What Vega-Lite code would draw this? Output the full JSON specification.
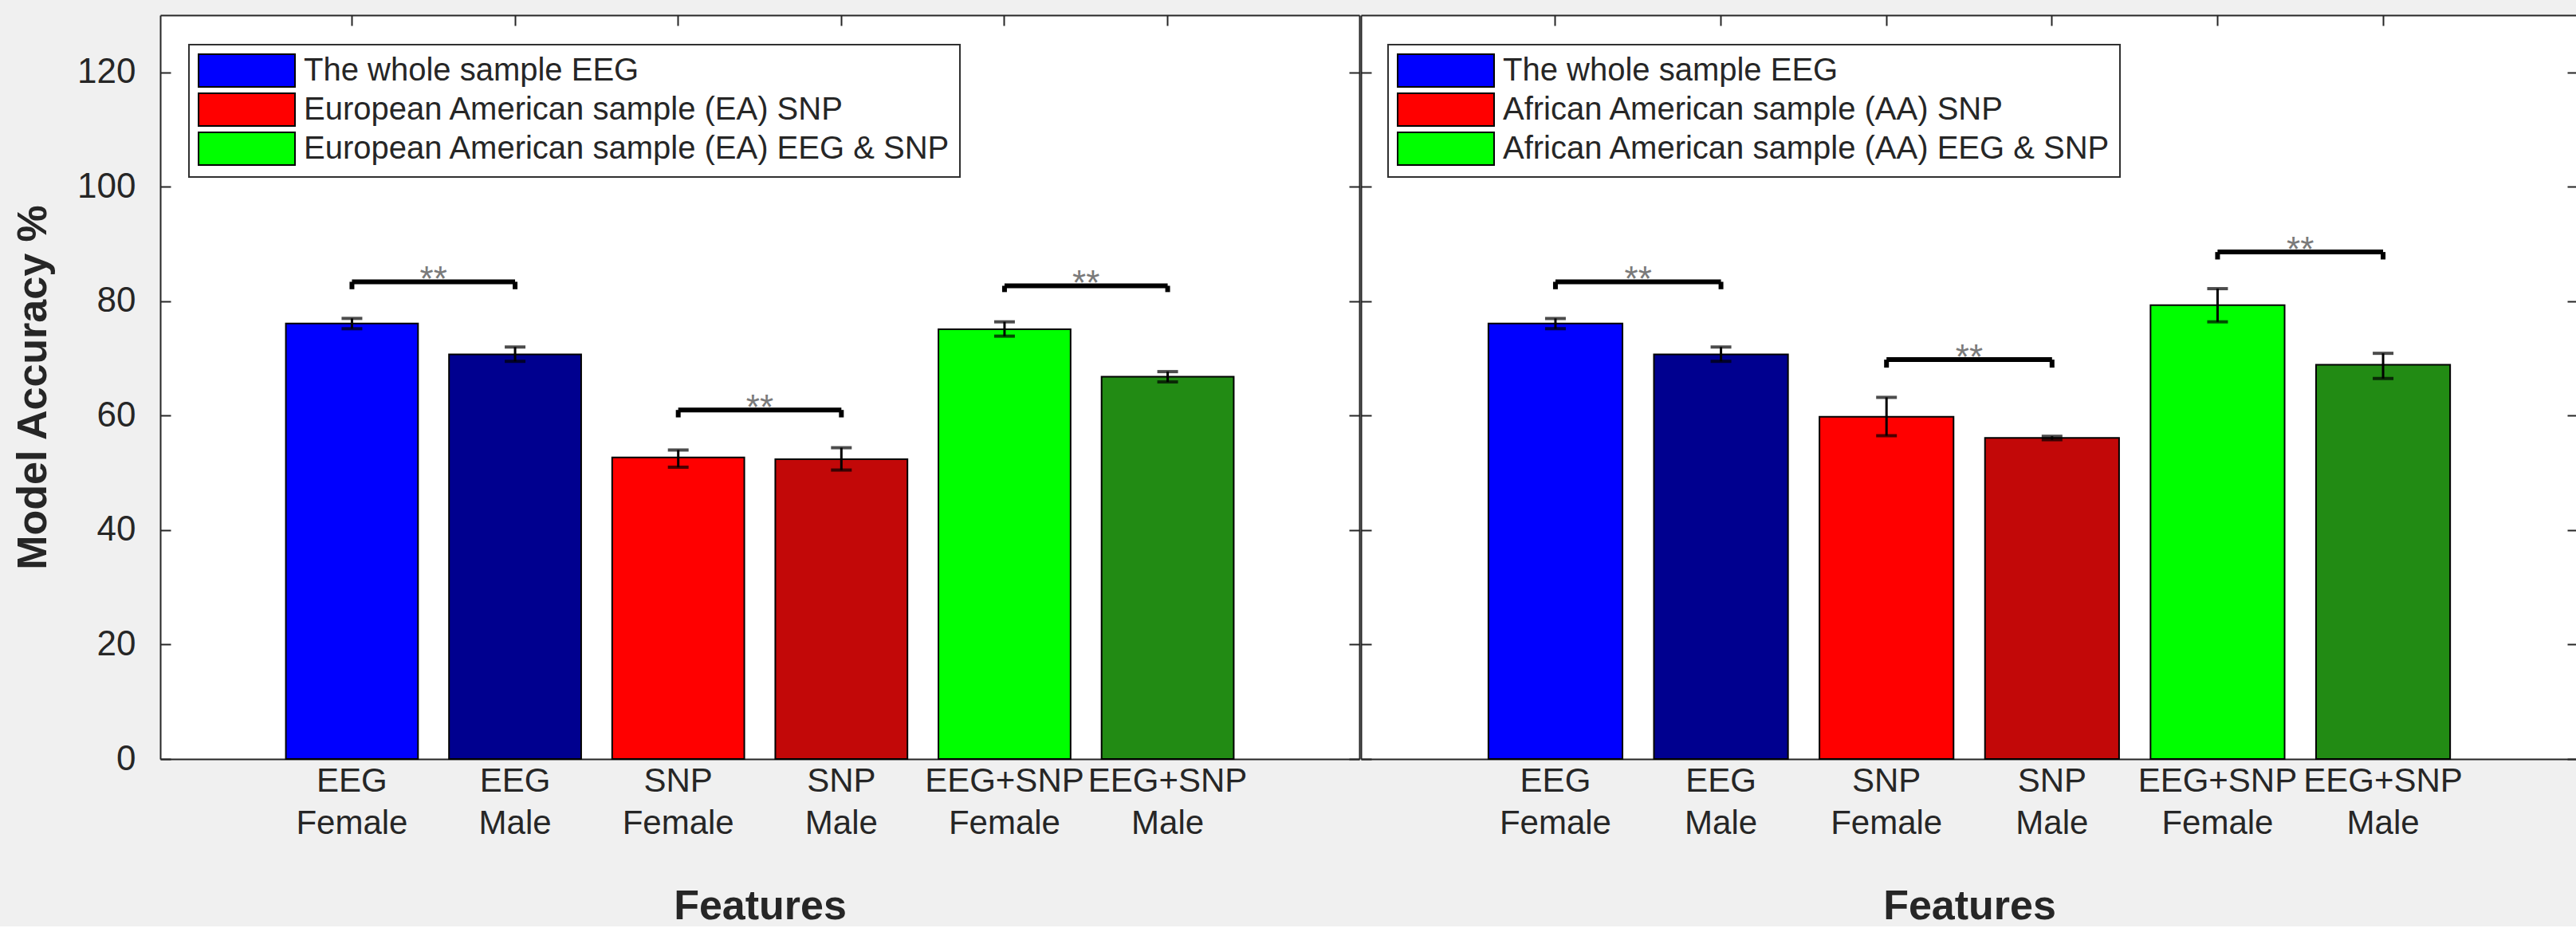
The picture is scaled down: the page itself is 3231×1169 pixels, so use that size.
{
  "$schema": "https://vega.github.io/schema/vega-lite/v6.json",
  "background": "#f0f0f0",
  "padding": {"left": 15, "top": 18, "right": 0, "bottom": 0},
  "config": {
    "font": "Liberation Sans",
    "view": {"fill": "white", "stroke": null},
    "concat": {"spacing": 0},
    "legend": {"strokeWidth": 2},
    "axis": {"grid": false, "domainColor": "#262626", "domainWidth": 2, "tickColor": "#262626", "tickWidth": 2, "labelColor": "#262626", "titleColor": "#262626"}
  },
  "spacing": 0,
  "resolve": {"scale": {"fill": "independent", "x": "independent", "y": "independent"}, "legend": {"fill": "independent"}},
  "hconcat": [
    {
      "width": 1504,
      "height": 933,
      "layer": [
        {
          "data": {"name": "left"},
          "mark": {"type": "bar", "stroke": "#000000", "strokeWidth": 2},
          "encoding": {
            "x": {"field": "cat", "type": "nominal", "sort": null,
              "scale": {"domain": ["EEG Female", "EEG Male", "SNP Female", "SNP Male", "EEG+SNP Female", "EEG+SNP Male"], "paddingInner": 0.19, "paddingOuter": 0.77},
              "axis": {"orient": "bottom", "title": "Features", "titleFontSize": 52, "titleFontWeight": "bold", "titlePadding": 58, "labelFontSize": 42, "labelPadding": 20, "labelLineHeight": 53, "labelAngle": 0, "labelOverlap": false, "labelBound": false, "labelLimit": 0, "labelExpr": "split(datum.label, ' ')", "tickSize": -13}},
            "y": {"field": "v", "type": "quantitative", "scale": {"domain": [0, 130], "nice": false, "zero": true},
              "axis": {"orient": "left", "title": "Model Accuracy %", "titleFontSize": 52, "titleFontWeight": "bold", "titlePadding": 28, "labelFontSize": 44, "labelPadding": 44, "tickSize": -13, "values": [0, 20, 40, 60, 80, 100, 120]}},
            "fill": {"field": "series", "type": "nominal",
              "scale": {"domain": ["The whole sample EEG", "European American sample (EA) SNP", "European American sample (EA) EEG & SNP", "EEG Male", "SNP Male", "EEG+SNP Male"],
                "range": ["#0000ff", "#ff0000", "#00ff00", "#00008f", "#c20808", "#228b14"]},
              "legend": {"orient": "none", "legendX": 36, "legendY": 37, "direction": "vertical", "title": null,
                "values": ["The whole sample EEG", "European American sample (EA) SNP", "European American sample (EA) EEG & SNP"],
                "fillColor": "white", "strokeColor": "#303030", "padding": 11, "rowPadding": 0,
                "symbolType": "M-2.95,-1H2.95V1H-2.95Z", "symbolSize": 1681, "symbolOffset": 40, "symbolStrokeColor": "#000000", "symbolStrokeWidth": 2,
                "labelFontSize": 40, "labelColor": "#262626", "labelOffset": 50, "labelLimit": 0}}
          }
        },
        {
          "data": {"name": "left"},
          "mark": {"type": "rule", "color": "#000000", "strokeWidth": 3},
          "encoding": {
            "x": {"field": "cat", "type": "nominal", "sort": null, "axis": {"orient": "top", "labels": false, "title": null, "tickSize": -13}},
            "y": {"field": "lo", "type": "quantitative", "axis": {"orient": "right", "labels": false, "title": null, "tickSize": -13, "values": [0, 20, 40, 60, 80, 100, 120]}},
            "y2": {"field": "hi"}
          }
        },
        {
          "data": {"name": "left"},
          "mark": {"type": "tick", "color": "#000000", "size": 26, "thickness": 4},
          "encoding": {
            "x": {"field": "cat", "type": "nominal", "sort": null, "axis": null},
            "y": {"field": "lo", "type": "quantitative", "axis": null}
          }
        },
        {
          "data": {"name": "left"},
          "mark": {"type": "tick", "color": "#000000", "size": 26, "thickness": 4},
          "encoding": {
            "x": {"field": "cat", "type": "nominal", "sort": null, "axis": null},
            "y": {"field": "hi", "type": "quantitative", "axis": null}
          }
        },
        {
          "data": {"name": "leftsig"},
          "mark": {"type": "rule", "color": "#000000", "strokeWidth": 6},
          "encoding": {
            "x": {"field": "c1", "type": "nominal", "bandPosition": 0.5, "axis": null},
            "x2": {"field": "c2", "bandPosition": 0.5},
            "y": {"field": "yb", "type": "quantitative", "axis": null}
          }
        },
        {
          "data": {"name": "leftsig"},
          "mark": {"type": "rule", "color": "#000000", "strokeWidth": 6},
          "encoding": {
            "x": {"field": "c1", "type": "nominal", "bandPosition": 0.5, "axis": null},
            "y": {"field": "yl", "type": "quantitative", "axis": null},
            "y2": {"field": "yb"}
          }
        },
        {
          "data": {"name": "leftsig"},
          "mark": {"type": "rule", "color": "#000000", "strokeWidth": 6},
          "encoding": {
            "x": {"field": "c2", "type": "nominal", "bandPosition": 0.5, "axis": null},
            "y": {"field": "yl", "type": "quantitative", "axis": null},
            "y2": {"field": "yb"}
          }
        },
        {
          "data": {"name": "leftsig"},
          "mark": {"type": "text", "color": "#7a7a7a", "fontSize": 44, "baseline": "alphabetic", "align": "center", "dy": 12},
          "encoding": {
            "x": {"field": "c1", "type": "nominal", "bandPosition": 1.117, "axis": null},
            "y": {"field": "yb", "type": "quantitative", "axis": null},
            "text": {"field": "label"}
          }
        }
      ],
      "resolve": {"axis": {"x": "independent", "y": "independent"}}
    },
    {
      "width": 1526,
      "height": 933,
      "layer": [
        {
          "data": {"name": "right"},
          "mark": {"type": "bar", "stroke": "#000000", "strokeWidth": 2},
          "encoding": {
            "x": {"field": "cat", "type": "nominal", "sort": null,
              "scale": {"domain": ["EEG Female", "EEG Male", "SNP Female", "SNP Male", "EEG+SNP Female", "EEG+SNP Male"], "paddingInner": 0.19, "paddingOuter": 0.77},
              "axis": {"orient": "bottom", "title": "Features", "titleFontSize": 52, "titleFontWeight": "bold", "titlePadding": 58, "labelFontSize": 42, "labelPadding": 20, "labelLineHeight": 53, "labelAngle": 0, "labelOverlap": false, "labelBound": false, "labelLimit": 0, "labelExpr": "split(datum.label, ' ')", "tickSize": -13}},
            "y": {"field": "v", "type": "quantitative", "scale": {"domain": [0, 130], "nice": false, "zero": true},
              "axis": {"orient": "left", "title": null, "labels": false, "tickSize": -13, "values": [0, 20, 40, 60, 80, 100, 120]}},
            "fill": {"field": "series", "type": "nominal",
              "scale": {"domain": ["The whole sample EEG", "African American sample (AA) SNP", "African American sample (AA) EEG & SNP", "EEG Male", "SNP Male", "EEG+SNP Male"],
                "range": ["#0000ff", "#ff0000", "#00ff00", "#00008f", "#c20808", "#228b14"]},
              "legend": {"orient": "none", "legendX": 34, "legendY": 37, "direction": "vertical", "title": null,
                "values": ["The whole sample EEG", "African American sample (AA) SNP", "African American sample (AA) EEG & SNP"],
                "fillColor": "white", "strokeColor": "#303030", "padding": 11, "rowPadding": 0,
                "symbolType": "M-2.95,-1H2.95V1H-2.95Z", "symbolSize": 1681, "symbolOffset": 40, "symbolStrokeColor": "#000000", "symbolStrokeWidth": 2,
                "labelFontSize": 40, "labelColor": "#262626", "labelOffset": 50, "labelLimit": 0}}
          }
        },
        {
          "data": {"name": "right"},
          "mark": {"type": "rule", "color": "#000000", "strokeWidth": 3},
          "encoding": {
            "x": {"field": "cat", "type": "nominal", "sort": null, "axis": {"orient": "top", "labels": false, "title": null, "tickSize": -13}},
            "y": {"field": "lo", "type": "quantitative", "axis": {"orient": "right", "labels": false, "title": null, "tickSize": -13, "values": [0, 20, 40, 60, 80, 100, 120]}},
            "y2": {"field": "hi"}
          }
        },
        {
          "data": {"name": "right"},
          "mark": {"type": "tick", "color": "#000000", "size": 26, "thickness": 4},
          "encoding": {
            "x": {"field": "cat", "type": "nominal", "sort": null, "axis": null},
            "y": {"field": "lo", "type": "quantitative", "axis": null}
          }
        },
        {
          "data": {"name": "right"},
          "mark": {"type": "tick", "color": "#000000", "size": 26, "thickness": 4},
          "encoding": {
            "x": {"field": "cat", "type": "nominal", "sort": null, "axis": null},
            "y": {"field": "hi", "type": "quantitative", "axis": null}
          }
        },
        {
          "data": {"name": "rightsig"},
          "mark": {"type": "rule", "color": "#000000", "strokeWidth": 6},
          "encoding": {
            "x": {"field": "c1", "type": "nominal", "bandPosition": 0.5, "axis": null},
            "x2": {"field": "c2", "bandPosition": 0.5},
            "y": {"field": "yb", "type": "quantitative", "axis": null}
          }
        },
        {
          "data": {"name": "rightsig"},
          "mark": {"type": "rule", "color": "#000000", "strokeWidth": 6},
          "encoding": {
            "x": {"field": "c1", "type": "nominal", "bandPosition": 0.5, "axis": null},
            "y": {"field": "yl", "type": "quantitative", "axis": null},
            "y2": {"field": "yb"}
          }
        },
        {
          "data": {"name": "rightsig"},
          "mark": {"type": "rule", "color": "#000000", "strokeWidth": 6},
          "encoding": {
            "x": {"field": "c2", "type": "nominal", "bandPosition": 0.5, "axis": null},
            "y": {"field": "yl", "type": "quantitative", "axis": null},
            "y2": {"field": "yb"}
          }
        },
        {
          "data": {"name": "rightsig"},
          "mark": {"type": "text", "color": "#7a7a7a", "fontSize": 44, "baseline": "alphabetic", "align": "center", "dy": 12},
          "encoding": {
            "x": {"field": "c1", "type": "nominal", "bandPosition": 1.117, "axis": null},
            "y": {"field": "yb", "type": "quantitative", "axis": null},
            "text": {"field": "label"}
          }
        }
      ],
      "resolve": {"axis": {"x": "independent", "y": "independent"}}
    }
  ],
  "datasets": {
    "left": [
      {"cat": "EEG Female", "series": "The whole sample EEG", "v": 76.1, "lo": 75.2, "hi": 77.0},
      {"cat": "EEG Male", "series": "EEG Male", "v": 70.7, "lo": 69.5, "hi": 72.0},
      {"cat": "SNP Female", "series": "European American sample (EA) SNP", "v": 52.7, "lo": 51.0, "hi": 54.0},
      {"cat": "SNP Male", "series": "SNP Male", "v": 52.4, "lo": 50.5, "hi": 54.4},
      {"cat": "EEG+SNP Female", "series": "European American sample (EA) EEG & SNP", "v": 75.1, "lo": 73.9, "hi": 76.4},
      {"cat": "EEG+SNP Male", "series": "EEG+SNP Male", "v": 66.8, "lo": 65.9, "hi": 67.7}
    ],
    "right": [
      {"cat": "EEG Female", "series": "The whole sample EEG", "v": 76.1, "lo": 75.2, "hi": 77.0},
      {"cat": "EEG Male", "series": "EEG Male", "v": 70.7, "lo": 69.5, "hi": 72.0},
      {"cat": "SNP Female", "series": "African American sample (AA) SNP", "v": 59.8, "lo": 56.5, "hi": 63.2},
      {"cat": "SNP Male", "series": "SNP Male", "v": 56.1, "lo": 55.8, "hi": 56.4},
      {"cat": "EEG+SNP Female", "series": "African American sample (AA) EEG & SNP", "v": 79.3, "lo": 76.4, "hi": 82.2},
      {"cat": "EEG+SNP Male", "series": "EEG+SNP Male", "v": 68.9, "lo": 66.5, "hi": 70.9}
    ],
    "leftsig": [
      {"c1": "EEG Female", "c2": "EEG Male", "yb": 83.4, "yl": 82.1, "label": "**"},
      {"c1": "SNP Female", "c2": "SNP Male", "yb": 61.0, "yl": 59.7, "label": "**"},
      {"c1": "EEG+SNP Female", "c2": "EEG+SNP Male", "yb": 82.7, "yl": 81.6, "label": "**"}
    ],
    "rightsig": [
      {"c1": "EEG Female", "c2": "EEG Male", "yb": 83.4, "yl": 82.1, "label": "**"},
      {"c1": "SNP Female", "c2": "SNP Male", "yb": 69.8, "yl": 68.4, "label": "**"},
      {"c1": "EEG+SNP Female", "c2": "EEG+SNP Male", "yb": 88.6, "yl": 87.3, "label": "**"}
    ]
  }
}
